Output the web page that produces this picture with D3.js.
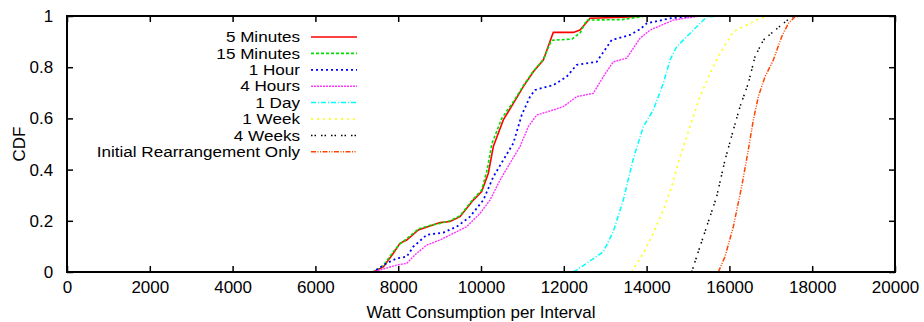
<!DOCTYPE html>
<html>
<head>
<meta charset="utf-8">
<style>
  body { margin: 0; background: #fff; }
  svg text { font-family: "Liberation Sans", Arial, sans-serif; font-size: 17px; fill: #000; }
</style>
</head>
<body>
<svg id="chart"></svg>
<script src="https://d3js.org/d3.v7.min.js"></script>
<script>
// tick values
var xTicks = [0, 2000, 4000, 6000, 8000, 10000, 12000, 14000, 16000, 18000, 20000];
var yTicks = [0, 0.2, 0.4, 0.6, 0.8, 1];

// series names
var seriesNames = ["5 Minutes", "15 Minutes", "1 Hour", "4 Hours", "1 Day", "1 Week", "4 Weeks", "Initial Rearrangement Only"];

// [watts, cdf] pairs
var fiveMin = [[7000,0],[7391,0],[7641,0.02],[7882,0.073],[8043,0.112],[8205,0.125],[8486,0.164],[8768,0.18],[9010,0.193],[9251,0.197],
  [9493,0.216],[9814,0.281],[10016,0.314],[10177,0.386],[10298,0.49],[10418,0.542],[10539,0.594],[10781,0.659],[11022,0.724],
  [11264,0.782],[11505,0.828],[11707,0.919],[11747,0.936],[12230,0.936],[12391,0.945],[12633,0.991],[13437,0.995],[14000,1],[20000,1]];
var fifteenMin = [[7000,0],[7391,0],[7641,0.025],[7882,0.08],[8043,0.11],[8205,0.13],[8486,0.168],[8768,0.182],[9010,0.19],[9251,0.2],
  [9493,0.22],[9814,0.285],[10016,0.32],[10150,0.4],[10260,0.5],[10380,0.55],[10500,0.6],[10781,0.665],[11022,0.728],
  [11264,0.785],[11505,0.83],[11700,0.905],[12200,0.91],[12400,0.935],[12550,0.984],[13400,0.986],[14000,1],[20000,1]];
var oneHour = [[7000,0],[7391,0],[7721,0.034],[7963,0.053],[8205,0.06],[8366,0.099],[8688,0.145],[9090,0.154],[9412,0.177],[9734,0.216],
  [10056,0.281],[10298,0.372],[10539,0.4375],[10781,0.503],[10983,0.613],[11184,0.685],[11304,0.711],[11747,0.73],[12070,0.763],
  [12311,0.809],[12794,0.821],[13156,0.906],[13599,0.926],[13841,0.948],[14002,0.971],[14565,0.991],[15209,1],[20000,1]];
var fourHours = [[7000,0],[7391,0],[7963,0.027],[8205,0.034],[8446,0.073],[8688,0.105],[9010,0.125],[9331,0.151],[9654,0.177],[9976,0.229],
  [10217,0.281],[10459,0.359],[10700,0.425],[10942,0.49],[11143,0.568],[11345,0.613],[11747,0.633],[11988,0.646],[12311,0.685],
  [12713,0.698],[12955,0.763],[13196,0.821],[13518,0.835],[13841,0.913],[14082,0.945],[14645,0.984],[15290,1],[20000,1]];
var oneDay = [[12230,0],[12553,0.034],[12955,0.079],[13196,0.158],[13437,0.281],[13680,0.443],[13921,0.568],[14162,0.633],[14404,0.737],
  [14565,0.828],[14726,0.88],[15048,0.932],[15290,0.971],[15451,0.997],[15900,1],[20000,1]];
var oneWeek = [[13639,0],[13921,0.073],[14162,0.151],[14404,0.242],[14605,0.333],[14807,0.45],[15048,0.568],[15290,0.685],[15531,0.776],
  [15773,0.854],[16095,0.939],[16417,0.965],[16739,0.991],[16900,1],[20000,1]];
var fourWeeks = [[15089,0],[15209,0.06],[15451,0.177],[15692,0.294],[15894,0.4375],[16095,0.555],[16256,0.646],[16457,0.737],[16618,0.841],
  [16820,0.906],[17061,0.939],[17302,0.971],[17504,0.997],[17600,1],[20000,1]];
var initialOnly = [[15733,0],[15894,0.06],[16095,0.177],[16296,0.333],[16457,0.477],[16578,0.594],[16699,0.685],[16860,0.763],[17061,0.828],
  [17263,0.919],[17423,0.971],[17584,0.997],[17800,1],[20000,1]];

var allSeries = [fiveMin, fifteenMin, oneHour, fourHours, oneDay, oneWeek, fourWeeks, initialOnly];

// gnuplot-like line styles
var styles = [
  {color: "#ff0000", dash: null, w: 1.6},
  {color: "#00e000", dash: "3,2", w: 1.6},
  {color: "#0000ff", dash: "2,3", w: 1.8},
  {color: "#ff33ff", dash: "2,1", w: 1.4},
  {color: "#00ffff", dash: "5,2,1,2", w: 1.5},
  {color: "#ffff00", dash: "2,4", w: 1.6},
  {color: "#000000", dash: "1.5,2,1.5,5", w: 1.5},
  {color: "#ff4500", dash: "5,1.5,1,1.5,1,1.5", w: 1.5}
];

var width = 924, height = 322;
var m = {left: 67, right: 29, top: 16, bottom: 50};
var svg = d3.select("#chart").attr("width", width).attr("height", height);

var x = d3.scaleLinear().domain([0, 20000]).range([m.left, width - m.right]);
var y = d3.scaleLinear().domain([0, 1]).range([height - m.bottom, m.top]);

// curves
var line = d3.line().x(function(d){ return x(d[0]); }).y(function(d){ return y(d[1]); });
svg.append("defs").append("clipPath").attr("id", "clip")
  .append("rect").attr("x", x(0)).attr("y", y(1)).attr("width", x(20000) - x(0)).attr("height", y(0) - y(1));
var curves = svg.append("g").attr("clip-path", "url(#clip)");
allSeries.forEach(function(s, i){
  curves.append("path")
    .attr("d", line(s))
    .attr("fill", "none")
    .attr("stroke", styles[i].color)
    .attr("stroke-width", styles[i].w)
    .attr("stroke-dasharray", styles[i].dash);
});

// axes, gnuplot style: inward ticks mirrored on all sides
var tk = 6;
var xAxis = d3.axisBottom(x).tickValues(xTicks).tickSizeInner(-tk).tickSizeOuter(0).tickPadding(12).tickFormat(d3.format("d"));
var gx = svg.append("g").attr("transform", "translate(0," + y(0) + ")").call(xAxis);
var yAxis = d3.axisLeft(y).tickValues(yTicks).tickSizeInner(-tk).tickSizeOuter(0).tickPadding(13).tickFormat(function(d){ return String(+d.toFixed(1)); });
var gy = svg.append("g").attr("transform", "translate(" + x(0) + ",0)").call(yAxis);
svg.append("g").attr("transform", "translate(0," + y(1) + ")")
  .call(d3.axisTop(x).tickValues(xTicks).tickSizeInner(-tk).tickSizeOuter(0).tickFormat(""));
svg.append("g").attr("transform", "translate(" + x(20000) + ",0)")
  .call(d3.axisRight(y).tickValues(yTicks).tickSizeInner(-tk).tickSizeOuter(0).tickFormat(""));
svg.selectAll(".domain").remove();
svg.selectAll(".tick line").attr("stroke", "#000").attr("stroke-width", 1.5);
svg.selectAll(".tick text").attr("font-family", null).attr("font-size", null).attr("fill", "#000");
gx.selectAll(".tick text").attr("dy", "0.55em");
gy.selectAll(".tick text").attr("dx", "-0.05em");

svg.append("rect")
  .attr("x", x(0)).attr("y", y(1))
  .attr("width", x(20000) - x(0)).attr("height", y(0) - y(1))
  .attr("fill", "none").attr("stroke", "#000").attr("stroke-width", 2);

// axis labels
svg.append("text").attr("x", (x(0) + x(20000)) / 2).attr("y", 318)
  .attr("text-anchor", "middle").text("Watt Consumption per Interval");
svg.append("text").attr("transform", "translate(25," + ((y(0) + y(1)) / 2) + ") rotate(-90)")
  .attr("text-anchor", "middle").text("CDF");

// legend (slightly smaller, stretched font so the tight rows do not collide)
var legend = svg.append("g");
seriesNames.forEach(function(name, i){
  var ly = 37 + i * 16.4;
  legend.append("text")
    .attr("transform", "translate(300," + ly + ") scale(1.18,1)")
    .attr("dy", "0.36em")
    .style("font-size", "14.5px")
    .attr("text-anchor", "end").text(name);
  legend.append("line").attr("x1", 311).attr("x2", 357).attr("y1", ly).attr("y2", ly)
    .attr("stroke", styles[i].color)
    .attr("stroke-width", styles[i].w)
    .attr("stroke-dasharray", styles[i].dash);
});
</script>
</body>
</html>
